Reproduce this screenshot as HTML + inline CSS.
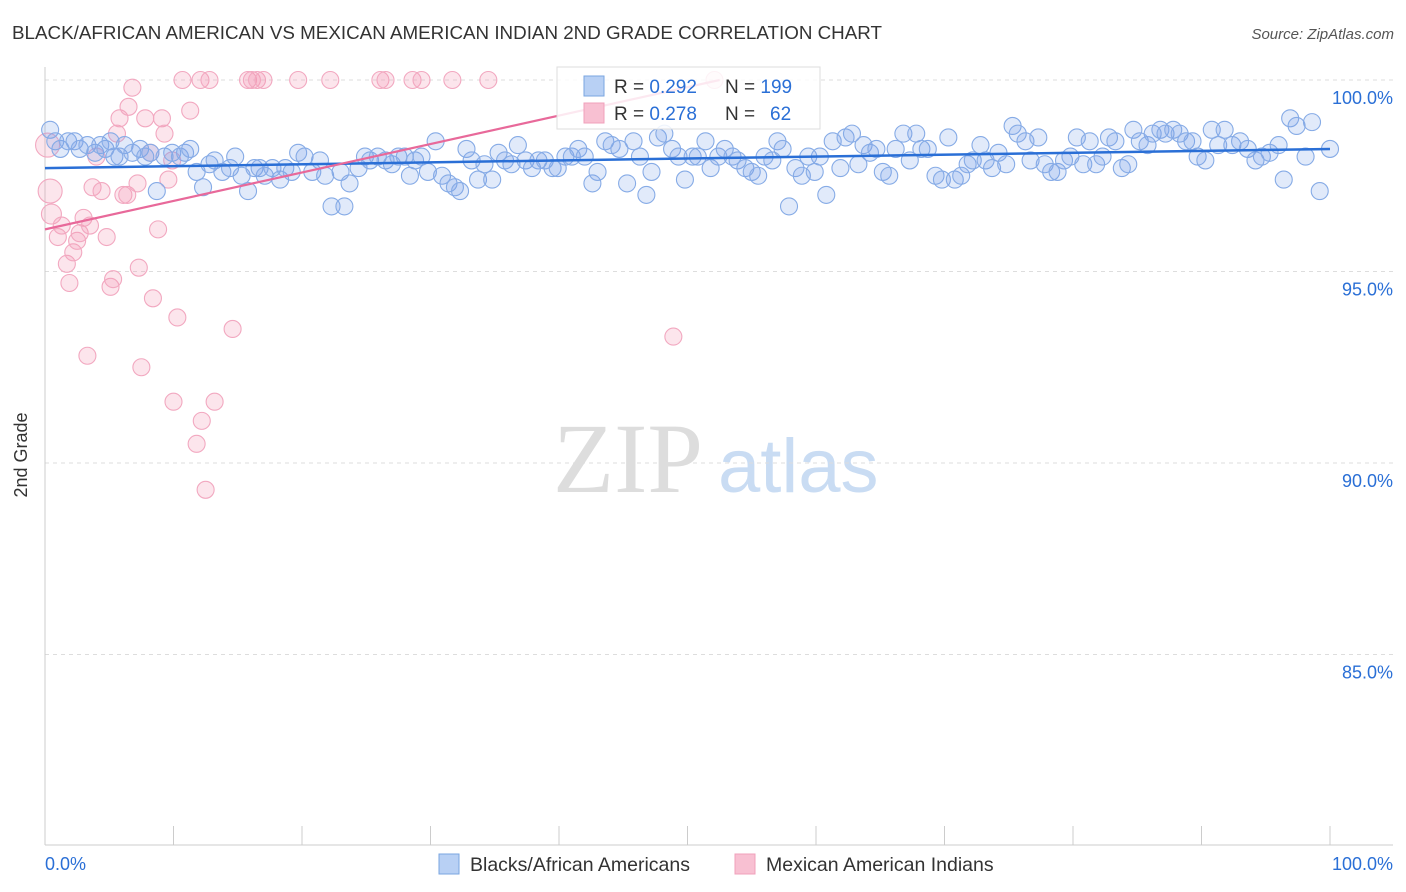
<!DOCTYPE html>
<html><head><meta charset="utf-8"><style>
body{margin:0;background:#fff;font-family:"Liberation Sans",sans-serif;}
svg{display:block}
</style></head><body>
<svg id="chart" width="1406" height="892" xmlns="http://www.w3.org/2000/svg">
<text x="12" y="39" font-size="18" textLength="870" lengthAdjust="spacingAndGlyphs" fill="#333">BLACK/AFRICAN AMERICAN VS MEXICAN AMERICAN INDIAN 2ND GRADE CORRELATION CHART</text>
<text x="1394" y="39" font-size="15" fill="#555" font-style="italic" text-anchor="end">Source: ZipAtlas.com</text>
<g>
<text x="553" y="492" font-size="100" font-family="Liberation Serif,serif" fill="#ddd">ZIP</text>
<text x="718" y="492" font-size="76" fill="#c9dcf3">atlas</text>
</g>
<g id="grid"></g>
<g id="axes"></g>
<g id="pinkPts"></g>
<g id="bluePts"></g>
<g id="trends"></g>
<text x="27" y="455" font-size="18" fill="#333" transform="rotate(-90 27 455)" text-anchor="middle">2nd Grade</text>
<g>
<rect x="557" y="67" width="263" height="62" fill="rgba(255,255,255,0.85)" stroke="#ddd"/>
<rect x="584" y="76" width="20" height="20" fill="#b8d0f4" stroke="#7aa6e0"/>
<text x="614" y="93" font-size="19" fill="#333">R = <tspan fill="#2a6fd6">0.292</tspan></text>
<text x="725" y="93" font-size="19" fill="#333">N = <tspan fill="#2a6fd6">199</tspan></text>
<rect x="584" y="103" width="20" height="20" fill="#f8c0d2" stroke="#f0a0bb"/>
<text x="614" y="120" font-size="19" fill="#333">R = <tspan fill="#2a6fd6">0.278</tspan></text>
<text x="725" y="120" font-size="19" fill="#333">N = <tspan fill="#2a6fd6" x="770">62</tspan></text>
</g>
<g>
<rect x="439" y="854" width="20" height="20" fill="#b8d0f4" stroke="#7aa6e0"/>
<text x="470" y="871" font-size="19.5" fill="#333">Blacks/African Americans</text>
<rect x="735" y="854" width="20" height="20" fill="#f8c0d2" stroke="#f0a0bb"/>
<text x="766" y="871" font-size="19.5" fill="#333">Mexican American Indians</text>
</g>
</svg>
<script>
const blueX=[0.4,0.8,1.2,1.8,2.3,2.7,3.3,3.9,4.3,4.7,5.1,5.4,5.8,6.2,6.8,7.4,7.8,8.2,8.7,9.3,9.9,10.5,10.9,11.3,11.8,12.3,12.8,13.2,13.8,14.4,14.8,15.3,15.8,16.3,16.7,17.1,17.7,18.3,18.7,19.2,19.7,20.2,20.8,21.4,21.8,22.3,23.0,23.3,23.7,24.4,24.9,25.3,25.9,26.5,27.0,27.5,28.0,28.4,28.8,29.3,29.8,30.4,30.9,31.4,31.9,32.3,32.8,33.2,33.7,34.2,34.8,35.3,35.8,36.3,36.8,37.4,37.9,38.4,38.9,39.5,39.9,40.5,41.0,41.5,42.0,42.6,43.0,43.6,44.1,44.7,45.3,45.8,46.3,46.8,47.2,47.7,48.2,48.8,49.3,49.8,50.4,50.8,51.4,51.8,52.4,52.9,53.5,53.9,54.5,55.0,55.5,56.0,56.6,57.0,57.4,57.9,58.4,58.9,59.4,59.9,60.3,60.8,61.3,61.9,62.3,62.8,63.3,63.7,64.2,64.7,65.2,65.7,66.2,66.8,67.3,67.8,68.2,68.7,69.3,69.8,70.3,70.8,71.3,71.8,72.2,72.8,73.2,73.7,74.2,74.8,75.3,75.7,76.3,76.7,77.3,77.8,78.3,78.8,79.3,79.8,80.3,80.8,81.3,81.8,82.3,82.8,83.3,83.8,84.3,84.7,85.2,85.8,86.2,86.8,87.2,87.8,88.3,88.8,89.3,89.7,90.3,90.8,91.3,91.8,92.4,93.0,93.6,94.2,94.7,95.3,96.0,96.4,96.9,97.4,98.1,98.6,99.2,100];
const blueY=[98.7,98.4,98.2,98.4,98.4,98.2,98.3,98.1,98.3,98.2,98.4,98.0,98.0,98.3,98.1,98.2,98.0,98.1,97.1,98.0,98.1,98.0,98.1,98.2,97.6,97.2,97.8,97.9,97.6,97.7,98.0,97.5,97.1,97.7,97.7,97.5,97.7,97.4,97.7,97.6,98.1,98.0,97.6,97.9,97.5,96.7,97.6,96.7,97.3,97.7,98.0,97.9,98.0,97.9,97.8,98.0,98.0,97.5,97.9,98.0,97.6,98.4,97.5,97.3,97.2,97.1,98.2,97.9,97.4,97.8,97.4,98.1,97.9,97.8,98.3,97.9,97.7,97.9,97.9,97.7,97.7,98.0,98.0,98.2,98.0,97.3,97.6,98.4,98.3,98.2,97.3,98.4,98.0,97.0,97.6,98.5,98.6,98.2,98.0,97.4,98.0,98.0,98.4,97.7,98.0,98.2,98.0,97.9,97.7,97.6,97.5,98.0,97.9,98.4,98.2,96.7,97.7,97.5,98.0,97.6,98.0,97.0,98.4,97.7,98.5,98.6,97.8,98.3,98.1,98.2,97.6,97.5,98.2,98.6,97.9,98.6,98.2,98.2,97.5,97.4,98.5,97.4,97.5,97.8,97.9,98.3,97.9,97.7,98.1,97.8,98.8,98.6,98.4,97.9,98.5,97.8,97.6,97.6,97.9,98.0,98.5,97.8,98.4,97.8,98.0,98.5,98.4,97.7,97.8,98.7,98.4,98.3,98.6,98.7,98.6,98.7,98.6,98.4,98.4,98.0,97.9,98.7,98.3,98.7,98.3,98.4,98.2,97.9,98.0,98.1,98.3,97.4,99.0,98.8,98.0,98.9,97.1,98.2];
const pinkX=[0.2,0.4,0.5,1.0,1.3,1.7,1.9,2.2,2.5,2.7,3.0,3.3,3.5,3.7,4.0,4.4,4.8,5.1,5.3,5.6,5.8,6.1,6.4,6.5,6.8,7.2,7.3,7.5,7.8,8.2,8.4,8.8,9.1,9.3,9.6,9.9,10.0,10.3,10.7,11.3,11.8,12.1,12.2,12.5,12.8,13.2,14.6,15.8,16.1,16.5,17.0,19.7,22.2,26.1,26.5,28.6,29.3,31.7,34.5,48.9,52.1];
const pinkY=[98.3,97.1,96.5,95.9,96.2,95.2,94.7,95.5,95.8,96.0,96.4,92.8,96.2,97.2,98.0,97.1,95.9,94.6,94.8,98.6,99.0,97.0,97.0,99.3,99.8,97.3,95.1,92.5,99.0,98.1,94.3,96.1,99.0,98.6,97.4,97.9,91.6,93.8,100,99.2,90.5,100,91.1,89.3,100,91.6,93.5,100,100,100,100,100,100,100,100,100,100,100,100,93.3,100];
const blueTrendX=[0,100], blueTrendY=[97.7,98.2];
const pinkTrendX=[0,52.5], pinkTrendY=[96.1,100];
const yTicks=[100,95,90,85];
const yTickLabels=["100.0%","95.0%","90.0%","85.0%"];
const xTicks=[0,10,20,30,40,50,60,70,80,90,100];

const NS="http://www.w3.org/2000/svg";
const sx=v=>45+v*12.85;
const sy=v=>80+(100-v)*38.3;
function mk(tag,attrs,parent){const e=document.createElementNS(NS,tag);for(const k in attrs)e.setAttribute(k,attrs[k]);parent.appendChild(e);return e;}
const grid=document.getElementById('grid'),axes=document.getElementById('axes');
yTicks.forEach((t,i)=>{
  const l=mk('line',{x1:45,x2:1393,y1:sy(t),y2:sy(t),stroke:'#ddd','stroke-dasharray':'4 4'},grid);
  
  
  const tx=mk('text',{x:1393,y:sy(t)+24,'font-size':18,fill:'#2a6fd6','text-anchor':'end'},axes);
  tx.textContent=yTickLabels[i];
  
  
});
mk('line',{x1:45,x2:45,y1:67,y2:845,stroke:'#ccc'},axes);
mk('line',{x1:45,x2:1393,y1:845,y2:845,stroke:'#ccc'},axes);
xTicks.forEach(t=>{
  const l=mk('line',{x1:sx(t),x2:sx(t),y1:826,y2:845,stroke:'#ccc'},axes);
  
  
});
const x0=mk('text',{x:45,y:870,'font-size':18,fill:'#2a6fd6'},axes);x0.textContent='0.0%';


const x1=mk('text',{x:1393,y:870,'font-size':18,fill:'#2a6fd6','text-anchor':'end'},axes);x1.textContent='100.0%';



const pg=document.getElementById('pinkPts');
pinkX.forEach((x,i)=>{
  const c=mk('circle',{cx:sx(x),cy:sy(pinkY[i]),r:i<2?12:(i<3?10:8.5),fill:'rgba(243,150,180,0.25)',stroke:'#f2a8c0','stroke-width':1.1},pg);
  
  
});
const bg=document.getElementById('bluePts');
blueX.forEach((x,i)=>{
  const c=mk('circle',{cx:sx(x),cy:sy(blueY[i]),r:8.5,fill:'rgba(120,160,230,0.22)',stroke:'#86abe6','stroke-width':1.1},bg);
  
  
});
const tg=document.getElementById('trends');
const bl=mk('line',{x1:sx(blueTrendX[0]),y1:sy(blueTrendY[0]),x2:sx(blueTrendX[1]),y2:sy(blueTrendY[1]),stroke:'#2a6fd6','stroke-width':2.5},tg);


const pl=mk('line',{x1:sx(pinkTrendX[0]),y1:sy(pinkTrendY[0]),x2:sx(pinkTrendX[1]),y2:sy(pinkTrendY[1]),stroke:'#e8699a','stroke-width':2.2},tg);


</script>
</body></html>
